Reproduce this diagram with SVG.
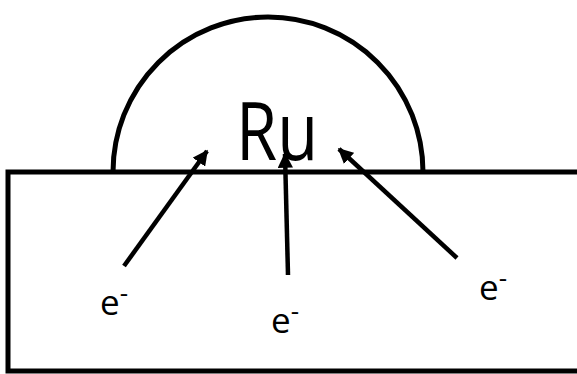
<svg xmlns="http://www.w3.org/2000/svg" width="577" height="374" viewBox="0 0 577 374">
<style>
.ln{fill:none;stroke:#000;stroke-width:5}
.ar{fill:none;stroke:#000;stroke-width:4.5;marker-end:url(#ah)}
.t{font-family:"Open Sans","Liberation Sans",sans-serif;fill:#000}
</style>
<defs>
<marker id="ah" viewBox="0 0 10 10" refX="9" refY="5" markerWidth="3.4" markerHeight="3.4" orient="auto" markerUnits="strokeWidth">
<path d="M0,0 L10,5 L0,10 z" fill="#000"/>
</marker>
</defs>
<rect width="577" height="374" fill="#fff"/>
<g id="substrate">
<rect class="ln" x="8" y="172" width="572" height="199"/>
</g>
<g id="ru-particle">
<path class="ln" d="M113,172 A155,155 0 0 1 423,172"/>
<text class="t" x="236" y="160" font-size="80" textLength="82" lengthAdjust="spacingAndGlyphs">Ru</text>
</g>
<g id="connectors">
<line class="ar" x1="124" y1="266" x2="207" y2="151"/>
<line class="ar" x1="288" y1="275" x2="285" y2="154"/>
<line class="ar" x1="457" y1="258" x2="339" y2="149"/>
</g>
<g id="label-left">
<text class="t" x="100" y="315" font-size="35">e<tspan font-size="26" dy="-13">-</tspan></text>
</g>
<g id="label-middle">
<text class="t" x="271" y="333" font-size="35">e<tspan font-size="26" dy="-13">-</tspan></text>
</g>
<g id="label-right">
<text class="t" x="479" y="300" font-size="35">e<tspan font-size="26" dy="-13">-</tspan></text>
</g>
</svg>
